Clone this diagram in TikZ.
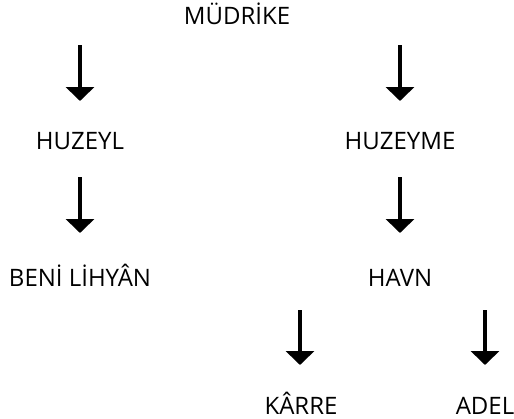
\documentclass[tikz,border=0pt]{standalone}
\usepackage{fontspec}
\setmainfont{Open Sans}
\usetikzlibrary{arrows.meta}

\tikzset{
  tribe/.style={anchor=base, inner sep=0pt, font=\fontsize{18pt}{20pt}\selectfont},
  downarrow/.style={line width=3.6pt, -{Triangle[length=10.5pt,width=21pt]}}
}

\begin{document}
\begin{tikzpicture}[x=0.75pt,y=-0.75pt]
\useasboundingbox (0,0) rectangle (514,418);

% Names of the tree
\node[tribe] (mudrike) at (237,24) {MÜDRİKE};
\node[tribe] (huzeyl) at (80,149) {HUZEYL};
\node[tribe] (huzeyme) at (400,149) {HUZEYME};
\node[tribe] (lihyan) at (80,286) {BENİ LİHYÂN};
\node[tribe] (havn) at (400,286) {HAVN};
\node[tribe] (karre) at (301,414) {KÂRRE};
\node[tribe] (adel) at (485,414) {ADEL};

% Arrow ends: top and tip of each arrow
\coordinate (a1) at (80,45);   \coordinate (b1) at (80,101);
\coordinate (a2) at (400,45);  \coordinate (b2) at (400,101);
\coordinate (a3) at (80,177);  \coordinate (b3) at (80,233);
\coordinate (a4) at (400,177); \coordinate (b4) at (400,233);
\coordinate (a5) at (300,310); \coordinate (b5) at (300,365);
\coordinate (a6) at (485,310); \coordinate (b6) at (485,365);

% Draw the arrows
\foreach \i in {1,...,6}
    \draw[downarrow] (a\i) -- (b\i);

\end{tikzpicture}
\end{document}
